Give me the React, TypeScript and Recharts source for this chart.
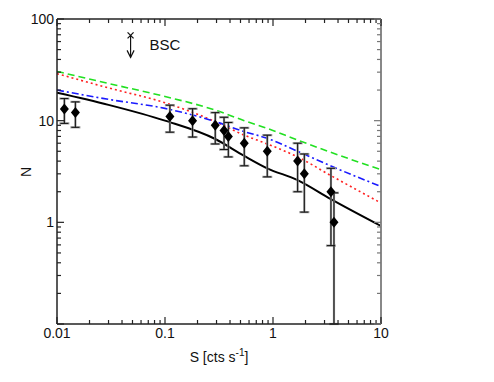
import {
  ComposedChart,
  Line,
  Scatter,
  ErrorBar,
  XAxis,
  YAxis,
  Label,
} from 'recharts';

// model curves
const modelS = [0.01, 0.03, 0.1, 0.292, 0.542, 0.885, 1.69, 3.4, 10];
const greenN = [30.5, 23.2, 17.3, 12.7, 10.0, 8.4, 6.45, 4.9, 3.3];
const redN = [29, 21, 15, 9.8, 7.2, 5.9, 4.4, 2.9, 1.55];
const blueN = [20, 16.2, 13.2, 9.8, 7.8, 6.7, 5.0, 3.6, 2.25];
const blackN = [18.8, 14.3, 10, 6.6, 4.5, 3.4, 2.6, 1.7, 0.92];

// observed counts
const obsS = [0.0117, 0.0148, 0.111, 0.18, 0.292, 0.352, 0.386, 0.542, 0.885, 1.69, 1.95, 3.44, 3.67];
const obsN = [13, 12, 11, 10, 9, 8, 7, 6, 5, 4, 3, 2, 1];
const obsLow = [9.4, 8.6, 7.7, 6.9, 5.9, 5.2, 4.4, 3.6, 2.8, 2.0, 1.26, 0.59, 0.1];
const obsHigh = [16.5, 15.3, 14.2, 13.1, 12.0, 10.8, 9.6, 8.5, 7.2, 6.0, 4.7, 3.4, 1.95];

// BSC upper limit
const bscS = [0.048];
const bscN = [69];

const xMajor = [0.01, 0.1, 1, 10];
const yMajor = [0.1, 1, 10, 100];
const yLabels = ['', '1', '10', '100'];

const FONT = '"Liberation Sans", Arial, sans-serif';

const withMinor = (majors: number[]) => {
  const out: number[] = [];
  majors.forEach((m, i) => {
    out.push(m);
    if (i < majors.length - 1) for (let k = 2; k <= 9; k++) out.push(+(m * k).toPrecision(6));
  });
  return out;
};
const xTicks = withMinor(xMajor);
const yTicks = withMinor(yMajor);
const isMajor = (v: number) => Math.abs(Math.log10(v) - Math.round(Math.log10(v))) < 1e-6;

const curveData = modelS.map((s, i) => ({
  x: s,
  green: greenN[i],
  red: redN[i],
  blue: blueN[i],
  black: blackN[i],
}));

const obsData = obsS.map((s, i) => ({
  x: s,
  y: obsN[i],
  err: [obsN[i] - obsLow[i], obsHigh[i] - obsN[i]],
}));

const bscData = bscS.map((s, i) => ({ x: s, y: bscN[i] }));

const XTick = (props: any) => {
  const { x, y, payload, side } = props;
  const v = payload.value;
  const major = isMajor(v);
  const len = major ? 7 : 4;
  const dir = side === 'bottom' ? -1 : 1;
  return (
    <g>
      <line x1={x} x2={x} y1={y} y2={y + dir * len} stroke="#222" strokeWidth={1.2} />
      {major && side === 'bottom' && (
        <text x={x} y={y + 14} textAnchor="middle" fontSize={14} fontFamily={FONT} fill="#111">
          {String(v)}
        </text>
      )}
    </g>
  );
};

const YTick = (props: any) => {
  const { x, y, payload, side } = props;
  const v = payload.value;
  const major = isMajor(v);
  const len = major ? 7 : 4;
  const dir = side === 'left' ? 1 : -1;
  const idx = yMajor.findIndex((m) => Math.abs(m - v) < 1e-9);
  return (
    <g>
      <line x1={x} x2={x + dir * len} y1={y} y2={y} stroke={side === 'left' ? '#222' : '#777'} strokeWidth={1.2} />
      {major && side === 'left' && idx >= 0 && (
        <text x={x - 3} y={y + 5} textAnchor="end" fontSize={14} fontFamily={FONT} fill="#111">
          {yLabels[idx]}
        </text>
      )}
    </g>
  );
};

const Diamond = (props: any) => {
  const { cx, cy } = props;
  const r = 5.5;
  return <polygon points={`${cx},${cy - r} ${cx + r - 1},${cy} ${cx},${cy + r} ${cx - r + 1},${cy}`} fill="#000" />;
};

const BscMark = (props: any) => {
  const { cx, cy } = props;
  return (
    <g stroke="#111" strokeWidth={1.2} fill="none">
      <line x1={cx - 3} y1={cy - 3} x2={cx + 3} y2={cy + 3} />
      <line x1={cx - 3} y1={cy + 3} x2={cx + 3} y2={cy - 3} />
      <line x1={cx} y1={cy} x2={cx} y2={cy + 22} />
      <polyline points={`${cx - 3.5},${cy + 15} ${cx},${cy + 22} ${cx + 3.5},${cy + 15}`} />
      <text x={cx + 19} y={cy + 14.5} stroke="none" fill="#111" fontSize={15} fontFamily={FONT}>
        BSC
      </text>
    </g>
  );
};

const XTitle = (props: any) => {
  const { viewBox } = props;
  const cx = viewBox.x + viewBox.width / 2;
  return (
    <text x={cx} y={362} textAnchor="middle" fontSize={14} fontFamily={FONT} fill="#111">
      S [cts s
      <tspan dy={-6} fontSize={10}>-1</tspan>
      <tspan dy={6}>]</tspan>
    </text>
  );
};

const YTitle = () => (
  <text x={31} y={172} textAnchor="middle" fontSize={14} fontFamily={FONT} fill="#111" transform="rotate(-90, 31, 172)">
    N
  </text>
);

export default function App() {
  return (
    <div style={{ position: 'absolute', left: 0, top: 0, width: 494, height: 382, background: '#fff' }}>
      <ComposedChart width={494} height={382} margin={{ top: 18, right: 112, bottom: 57, left: 56 }}>
        <XAxis
          xAxisId="b"
          dataKey="x"
          type="number"
          scale="log"
          domain={[0.01, 10]}
          allowDataOverflow
          ticks={xTicks}
          interval={0}
          height={1}
          tickSize={0}
          tickMargin={0}
          tickLine={false}
          tick={<XTick side="bottom" />}
          axisLine={{ stroke: '#222', strokeWidth: 1.5 }}
        >
          <Label content={<XTitle />} />
        </XAxis>
        <XAxis
          xAxisId="t"
          dataKey="x"
          orientation="top"
          type="number"
          scale="log"
          domain={[0.01, 10]}
          allowDataOverflow
          ticks={xTicks}
          interval={0}
          height={1}
          tickSize={0}
          tickMargin={0}
          tickLine={false}
          tick={<XTick side="top" />}
          axisLine={{ stroke: '#222', strokeWidth: 1.5 }}
        />
        <YAxis
          yAxisId="l"
          type="number"
          scale="log"
          domain={[0.1, 100]}
          allowDataOverflow
          ticks={yTicks}
          interval={0}
          width={1}
          tickSize={0}
          tickMargin={0}
          tickLine={false}
          tick={<YTick side="left" />}
          axisLine={{ stroke: '#222', strokeWidth: 1.5 }}
        >
          <Label content={<YTitle />} />
        </YAxis>
        <YAxis
          yAxisId="r"
          orientation="right"
          type="number"
          scale="log"
          domain={[0.1, 100]}
          allowDataOverflow
          ticks={yTicks}
          interval={0}
          width={1}
          tickSize={0}
          tickMargin={0}
          tickLine={false}
          tick={<YTick side="right" />}
          axisLine={{ stroke: '#888', strokeWidth: 2 }}
        />
        <Line xAxisId="b" yAxisId="l" data={curveData} dataKey="green" type="monotone" stroke="#22e022" strokeWidth={1.6} strokeDasharray="7 4" dot={false} isAnimationActive={false} />
        <Line xAxisId="b" yAxisId="l" data={curveData} dataKey="red" type="monotone" stroke="#ff2020" strokeWidth={1.6} strokeDasharray="2 3" dot={false} isAnimationActive={false} />
        <Line xAxisId="b" yAxisId="l" data={curveData} dataKey="blue" type="monotone" stroke="#1a1aff" strokeWidth={1.6} strokeDasharray="7 3 2 3" dot={false} isAnimationActive={false} />
        <Line xAxisId="b" yAxisId="l" data={curveData} dataKey="black" type="monotone" stroke="#000" strokeWidth={2} dot={false} isAnimationActive={false} />
        <Scatter xAxisId="b" yAxisId="l" data={obsData} dataKey="y" shape={<Diamond />} isAnimationActive={false}>
          <ErrorBar dataKey="err" direction="y" width={5} stroke="#999" strokeWidth={2.2} />
          <ErrorBar dataKey="err" direction="y" width={4} stroke="#111" strokeWidth={1} />
        </Scatter>
        <Scatter xAxisId="b" yAxisId="l" data={bscData} dataKey="y" shape={<BscMark />} isAnimationActive={false} />
      </ComposedChart>
    </div>
  );
}
